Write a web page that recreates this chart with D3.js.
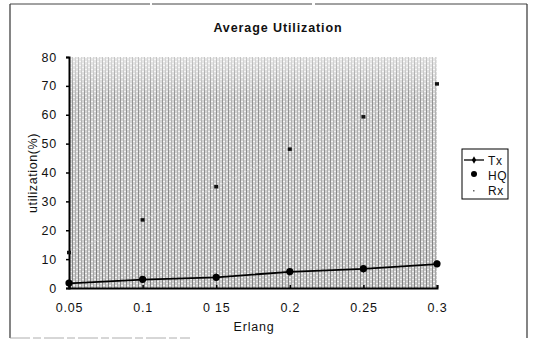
<!DOCTYPE html>
<html>
<head>
<meta charset="utf-8">
<script src="https://cdn.jsdelivr.net/npm/d3@7"></script>
<style>
  body { margin: 0; background: #fff; }
  text { font-family: "Liberation Sans", Arial, sans-serif; fill: #111; }
</style>
</head>
<body>
<svg id="svg"></svg>
<script>
var erlang = [0.05, 0.1, 0.15, 0.2, 0.25, 0.3],
    tx = [1.6, 2.9, 3.7, 5.6, 6.6, 8.3],
    hq = [1.7, 3.0, 3.7, 5.7, 6.7, 8.4],
    rx = [12.2, 23.5, 35, 48, 59.2, 70.6],
    xTicks = [0.05, 0.1, 0.15, 0.2, 0.25, 0.3],
    xTickLabels = ["0.05", "0.1", "0 15", "0.2", "0.25", "0.3"],
    yTicks = [0, 10, 20, 30, 40, 50, 60, 70, 80];

var width = 535, height = 345;
var svg = d3.select("#svg").attr("width", width).attr("height", height);

var x = d3.scaleLinear().domain([0.05, 0.3]).range([69, 437]),
    y = d3.scaleLinear().domain([0, 80]).range([288, 57]);

// outer frame (scanned, partly broken)
svg.append("line").attr("x1", 10).attr("y1", 4).attr("x2", 10).attr("y2", 338)
    .attr("stroke", "#333").attr("stroke-width", 1.2);
svg.append("line").attr("x1", 10).attr("y1", 4).attr("x2", 527).attr("y2", 4)
    .attr("stroke", "#444").attr("stroke-width", 1).attr("stroke-dasharray", "140,2,160,3,220");
svg.append("line").attr("x1", 527).attr("y1", 4).attr("x2", 527).attr("y2", 338)
    .attr("stroke", "#333").attr("stroke-width", 1.2);
svg.append("line").attr("x1", 10).attr("y1", 338).attr("x2", 190).attr("y2", 338)
    .attr("stroke", "#999").attr("stroke-width", 0.8).attr("stroke-dasharray", "20,3,8,3");

// stipple texture for plot area
var defs = svg.append("defs");
var pat = defs.append("pattern").attr("id", "stip")
    .attr("width", 6).attr("height", 4).attr("patternUnits", "userSpaceOnUse");
pat.append("rect").attr("width", 6).attr("height", 4).attr("fill", "#cbcbcb");
pat.append("rect").attr("x", 0).attr("width", 1).attr("height", 4).attr("fill", "#808080");
pat.append("rect").attr("x", 3).attr("width", 1).attr("height", 4).attr("fill", "#a4a4a4");
pat.append("rect").attr("x", 1).attr("y", 1).attr("width", 2).attr("height", 1).attr("fill", "#f4f4f4");
pat.append("rect").attr("x", 4).attr("y", 3).attr("width", 2).attr("height", 1).attr("fill", "#efefef");

var grad = defs.append("linearGradient").attr("id", "fade")
    .attr("x1", 0).attr("y1", 0).attr("x2", 0).attr("y2", 1);
grad.append("stop").attr("offset", "0").attr("stop-color", "#fff").attr("stop-opacity", 0.55);
grad.append("stop").attr("offset", "0.18").attr("stop-color", "#fff").attr("stop-opacity", 0.15);
grad.append("stop").attr("offset", "1").attr("stop-color", "#fff").attr("stop-opacity", 0);

svg.append("rect").attr("x", x(0.05)).attr("y", y(80))
    .attr("width", x(0.3) - x(0.05)).attr("height", y(0) - y(80))
    .attr("fill", "url(#stip)");
svg.append("rect").attr("x", x(0.05)).attr("y", y(80))
    .attr("width", x(0.3) - x(0.05)).attr("height", y(0) - y(80))
    .attr("fill", "url(#fade)");

// axes
var gy = svg.append("g").attr("transform", "translate(" + x(0.05) + ",0)")
    .call(d3.axisLeft(y).tickValues(yTicks).tickSize(3).tickPadding(9));
var gx = svg.append("g").attr("transform", "translate(0," + y(0) + ")")
    .call(d3.axisBottom(x).tickValues(xTicks).tickSize(-3).tickPadding(15)
      .tickFormat(function(d, i) { return xTickLabels[i]; }));
[gx, gy].forEach(function(g) {
  g.select(".domain").attr("stroke", "#000").attr("stroke-width", 2);
  g.selectAll(".tick line").attr("stroke", "#000").attr("stroke-width", 1.5);
  g.selectAll("text").attr("font-size", 12.5).attr("fill", "#222").attr("letter-spacing", 0.8)
    .attr("font-family", "Liberation Sans, Arial, sans-serif");
});

// Rx: faint line, tiny markers
var line = d3.line().x(function(d, i) { return x(erlang[i]); }).y(function(d) { return y(d); });
svg.append("path").datum(rx).attr("d", line).attr("fill", "none")
    .attr("stroke", "#d8d8d8").attr("stroke-width", 0.8).attr("opacity", 0.5);
svg.selectAll(".rx").data(rx).enter().append("rect")
    .attr("x", function(d, i) { return x(erlang[i]) - 2; })
    .attr("y", function(d) { return y(d) - 2; })
    .attr("width", 4).attr("height", 3.5).attr("fill", "#111");

// Tx line with small markers
svg.append("path").datum(tx).attr("d", line).attr("fill", "none")
    .attr("stroke", "#000").attr("stroke-width", 1.8);
svg.selectAll(".tx").data(tx).enter().append("path")
    .attr("d", d3.symbol().type(d3.symbolDiamond).size(18))
    .attr("transform", function(d, i) { return "translate(" + x(erlang[i]) + "," + y(d) + ")"; })
    .attr("fill", "#000");

// HQ big dots
svg.selectAll(".hq").data(hq).enter().append("circle")
    .attr("cx", function(d, i) { return x(erlang[i]); })
    .attr("cy", function(d) { return y(d); })
    .attr("r", 3.6).attr("fill", "#000");

// titles
svg.append("text").attr("x", 278).attr("y", 32).attr("text-anchor", "middle")
    .attr("font-size", 12.5).attr("font-weight", "bold").attr("letter-spacing", 0.9)
    .text("Average Utilization");
svg.append("text").attr("x", 254).attr("y", 331).attr("text-anchor", "middle")
    .attr("font-size", 12.5).attr("letter-spacing", 0.8).text("Erlang");
svg.append("text").attr("transform", "translate(37,173) rotate(-90)")
    .attr("text-anchor", "middle").attr("font-size", 12.5).attr("letter-spacing", 0.6)
    .text("utilization(%)");

// legend
var lg = svg.append("g").attr("transform", "translate(462,149)");
lg.append("rect").attr("width", 46).attr("height", 50).attr("fill", "#fff")
    .attr("stroke", "#000").attr("stroke-width", 1);
var names = ["Tx", "HQ", "Rx"];
names.forEach(function(n, i) {
  var yy = 11 + i * 15;
  if (i === 0) {
    lg.append("line").attr("x1", 2).attr("x2", 22).attr("y1", yy).attr("y2", yy)
      .attr("stroke", "#000").attr("stroke-width", 1.3);
    lg.append("path").attr("d", d3.symbol().type(d3.symbolDiamond).size(16))
      .attr("transform", "translate(12," + yy + ")").attr("fill", "#000");
  } else if (i === 1) {
    lg.append("circle").attr("cx", 12).attr("cy", yy - 1).attr("r", 3).attr("fill", "#000");
  } else {
    lg.append("rect").attr("x", 11).attr("y", yy).attr("width", 1.5).attr("height", 1.5).attr("fill", "#666");
  }
  lg.append("text").attr("x", 26).attr("y", yy + 5).attr("font-size", 12).attr("letter-spacing", 0.6).text(n);
});
</script>
</body>
</html>
